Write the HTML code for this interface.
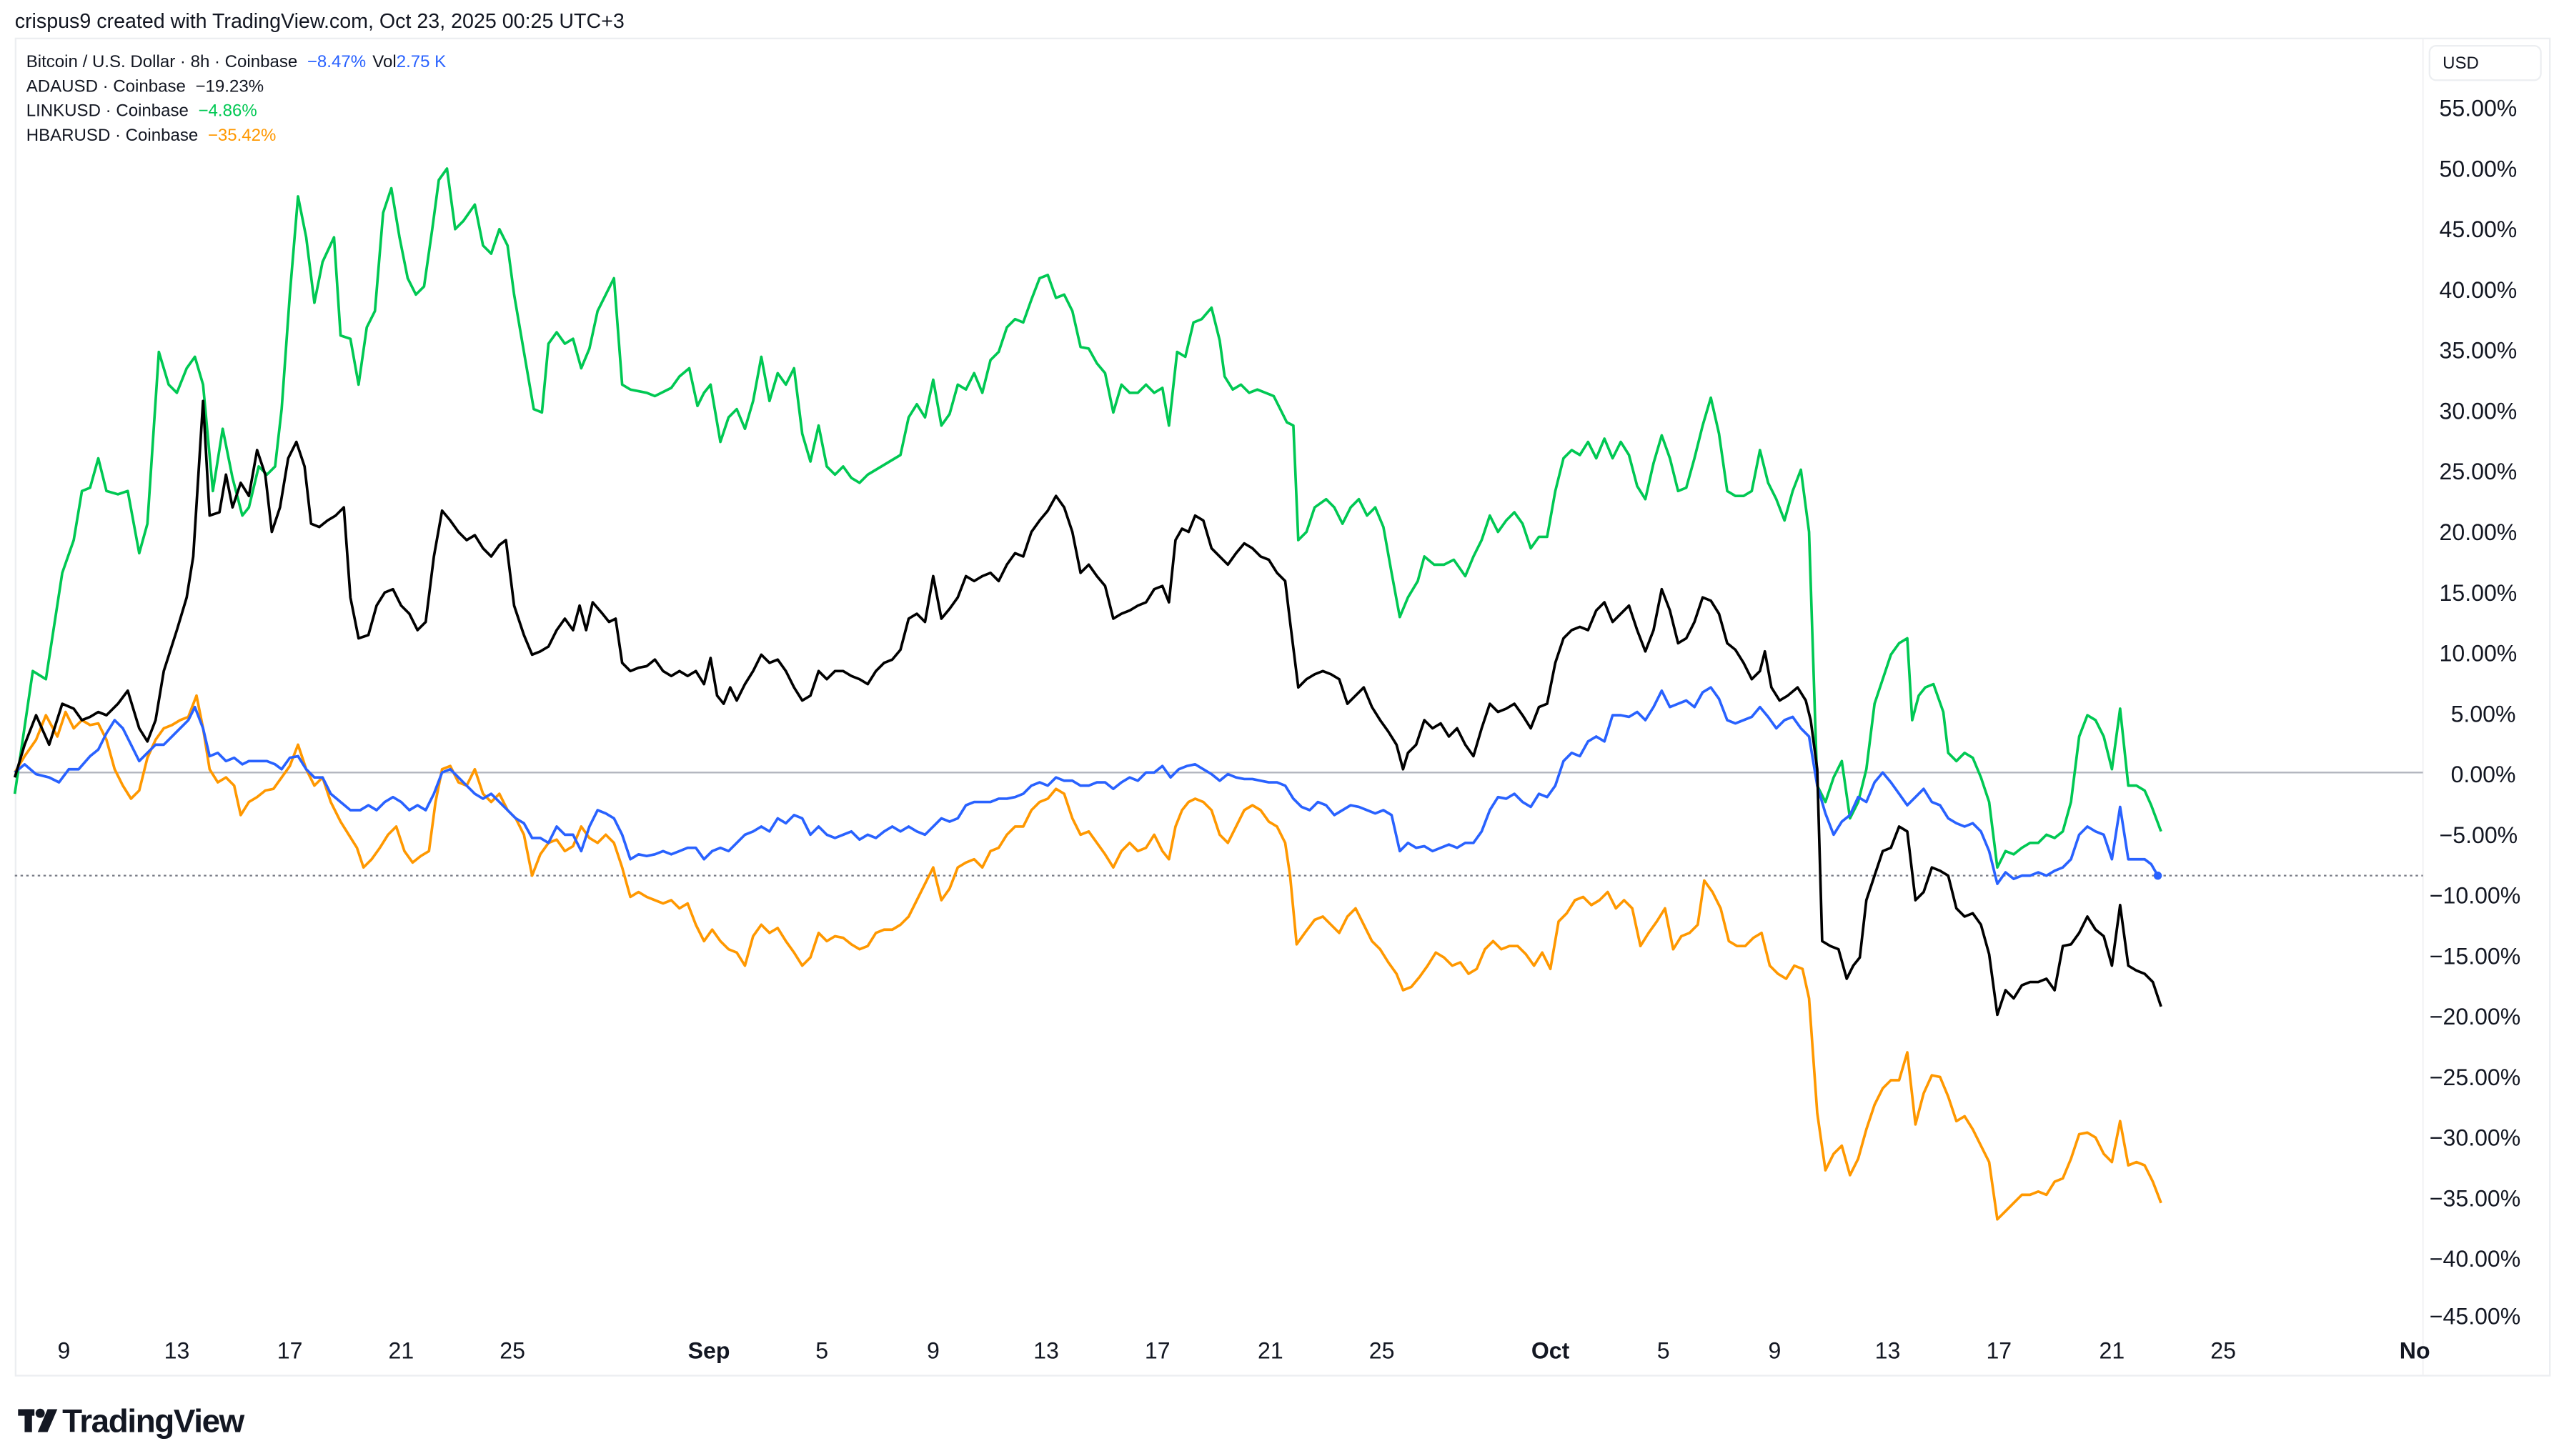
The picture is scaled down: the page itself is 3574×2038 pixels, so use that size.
<!DOCTYPE html>
<html><head><meta charset="utf-8"><style>
html,body{margin:0;padding:0;background:#fff;}
svg{display:block;}
text{font-family:"Liberation Sans",sans-serif;}
</style></head><body>
<svg width="3574" height="2038" viewBox="0 0 1560 889.6" xmlns="http://www.w3.org/2000/svg">
<rect x="0" y="0" width="1560" height="889.6" fill="#fff"/>
<text x="9" y="17" font-size="12.5" fill="#131722">crispus9 created with TradingView.com, Oct 23, 2025 00:25 UTC+3</text>
<rect x="9.5" y="23.5" width="1548" height="817" fill="none" stroke="#eceef1" stroke-width="1"/>
<line x1="1480" y1="24" x2="1480" y2="840" stroke="#f3f3f5" stroke-width="1"/>
<rect x="1484" y="28" width="68" height="21" rx="4" fill="#fff" stroke="#eceef1"/>
<text x="1492" y="42" font-size="10.5" fill="#131722">USD</text>
<g font-size="10.5" fill="#131722">
<text x="16" y="41">Bitcoin / U.S. Dollar · 8h · Coinbase  <tspan fill="#2962ff" dx="3">−8.47%</tspan><tspan dx="4">Vol</tspan><tspan fill="#2962ff">2.75 K</tspan></text>
<text x="16" y="56">ADAUSD · Coinbase <tspan dx="3">−19.23%</tspan></text>
<text x="16" y="71">LINKUSD · Coinbase <tspan fill="#00c853" dx="3">−4.86%</tspan></text>
<text x="16" y="86">HBARUSD · Coinbase <tspan fill="#ff9800" dx="3">−35.42%</tspan></text>
</g>
<g font-size="14" fill="#131722">
<text x="1490" y="71">55.00%</text><text x="1490" y="108">50.00%</text><text x="1490" y="145">45.00%</text>
<text x="1490" y="182">40.00%</text><text x="1490" y="219">35.00%</text><text x="1490" y="256">30.00%</text>
<text x="1490" y="293">25.00%</text><text x="1490" y="330">20.00%</text><text x="1490" y="367">15.00%</text>
<text x="1490" y="404">10.00%</text><text x="1497" y="441">5.00%</text><text x="1497" y="478">0.00%</text>
<text x="1490" y="515">−5.00%</text><text x="1484" y="552">−10.00%</text><text x="1484" y="589">−15.00%</text>
<text x="1484" y="626">−20.00%</text><text x="1484" y="663">−25.00%</text><text x="1484" y="700">−30.00%</text>
<text x="1484" y="737">−35.00%</text><text x="1484" y="774">−40.00%</text><text x="1484" y="809">−45.00%</text>
</g>
<g font-size="14" fill="#131722" text-anchor="middle">
<text x="39" y="830">9</text><text x="108" y="830">13</text><text x="177" y="830">17</text><text x="245" y="830">21</text><text x="313" y="830">25</text>
<text x="433" y="830" font-weight="bold">Sep</text><text x="502" y="830">5</text><text x="570" y="830">9</text><text x="639" y="830">13</text><text x="707" y="830">17</text><text x="776" y="830">21</text><text x="844" y="830">25</text>
<text x="947" y="830" font-weight="bold">Oct</text><text x="1016" y="830">5</text><text x="1084" y="830">9</text><text x="1153" y="830">13</text><text x="1221" y="830">17</text><text x="1290" y="830">21</text><text x="1358" y="830">25</text>
<text x="1475" y="830" font-weight="bold">No</text>
</g>
<line x1="9" y1="472" x2="1480" y2="472" stroke="#b2b5be" stroke-width="1"/>
<line x1="9" y1="535" x2="1480" y2="535" stroke="#787b86" stroke-width="1" stroke-dasharray="1.5,2"/>
<g fill="none" stroke-width="1.6" stroke-linejoin="round">
<polyline stroke="#00c853" points="9,485 20,410 28,415 38,350 45,330 50,300 55,298 60,280 65,300 72,302 78,300 85,338 90,320 97,215 103,235 108,240 114,225 119,218 124,235 130,300 136,262 142,292 148,315 152,310 158,285 163,290 168,285 172,250 177,180 182,120 187,145 192,185 197,160 204,145 208,205 214,207 219,235 224,200 229,190 234,130 239,115 244,145 249,170 254,180 259,175 264,140 268,110 273,103 278,140 283,135 290,125 295,150 300,155 305,140 310,150 314,180 320,215 326,250 331,252 335,210 340,203 345,210 350,207 355,225 360,213 365,190 370,180 375,170 380,235 385,238 395,240 400,242 410,237 415,230 421,225 426,248 430,240 434,235 440,270 445,255 450,250 455,262 460,245 465,218 470,245 475,228 480,235 485,225 490,265 495,282 500,260 505,285 510,290 515,285 520,292 525,295 530,290 540,284 550,278 555,255 560,247 565,255 570,232 575,260 580,253 585,235 590,238 595,228 600,240 605,220 610,215 615,200 620,195 625,197 630,183 635,170 640,168 645,182 650,180 655,190 660,212 665,213 670,222 675,228 680,252 685,235 690,240 695,240 700,235 705,240 710,237 714,260 719,215 724,218 729,197 734,195 740,188 745,208 748,230 753,238 758,235 763,240 768,238 773,240 778,242 782,250 786,258 790,260 793,330 798,325 803,310 810,305 815,310 820,320 825,310 830,305 835,315 840,310 845,322 850,350 855,377 860,365 866,355 870,340 876,345 882,345 888,342 895,352 900,340 905,330 910,315 915,325 920,318 925,313 930,320 935,335 940,328 945,328 950,300 955,280 960,275 965,278 970,270 975,280 980,268 985,280 990,270 995,278 1000,297 1005,305 1010,283 1015,266 1020,280 1025,300 1030,298 1035,280 1040,260 1045,243 1050,265 1055,300 1060,303 1065,303 1070,300 1075,275 1080,295 1085,305 1090,318 1095,300 1100,287 1105,325 1110,480 1115,490 1120,475 1125,465 1130,500 1135,490 1140,470 1145,430 1150,415 1155,400 1160,393 1165,390 1168,440 1172,425 1176,420 1181,418 1187,435 1190,460 1195,465 1200,460 1205,463 1210,475 1215,490 1220,530 1225,520 1230,522 1235,518 1240,515 1245,515 1250,510 1255,512 1260,508 1265,490 1270,450 1275,437 1280,440 1285,450 1290,470 1295,433 1300,480 1305,480 1310,483 1314,492 1320,508"/>
<polyline stroke="#ff9800" points="9,472 15,462 22,452 28,437 35,450 40,435 45,445 50,440 55,443 60,442 65,452 70,470 75,480 80,488 85,483 90,463 95,452 100,445 105,443 110,440 115,438 120,425 124,445 128,470 133,478 138,475 143,480 147,498 152,490 157,487 162,483 167,482 172,475 177,468 182,455 187,470 192,480 197,475 202,490 208,502 213,510 218,518 222,530 227,525 232,518 237,510 242,505 247,520 252,527 257,523 262,520 266,490 270,470 275,468 280,478 285,480 290,470 295,485 300,490 305,485 310,495 315,500 320,510 325,535 330,522 335,515 340,513 345,520 350,517 355,505 360,512 365,515 370,510 375,515 380,530 385,548 390,545 395,548 400,550 405,552 410,550 415,555 420,552 425,565 430,575 435,568 440,575 445,580 450,582 455,590 460,572 465,565 470,570 475,567 480,575 485,582 490,590 495,585 500,570 505,575 510,572 515,573 520,577 525,580 530,578 535,570 540,568 545,568 550,565 555,560 560,550 565,540 570,530 575,550 580,543 585,530 590,527 595,525 600,530 605,520 610,518 615,510 620,505 625,505 630,495 635,490 640,488 645,482 650,485 655,500 660,510 665,508 670,515 675,522 680,530 685,520 690,515 695,520 700,518 705,510 710,520 714,525 718,505 722,495 726,490 730,488 735,490 740,495 745,510 750,515 755,505 760,495 765,492 770,495 775,502 780,505 785,515 788,535 792,577 797,570 803,562 808,560 813,565 818,570 823,560 828,555 833,565 838,575 843,580 848,588 853,595 857,605 862,603 867,597 872,590 877,582 882,585 887,590 892,588 897,595 902,592 907,580 912,575 917,580 922,578 927,578 932,583 937,590 942,582 947,592 952,563 957,558 962,550 967,548 972,553 977,550 982,545 987,555 992,550 997,555 1002,578 1007,570 1012,563 1017,555 1022,580 1027,572 1032,570 1037,565 1041,538 1046,545 1051,555 1056,575 1061,578 1066,578 1071,573 1076,570 1081,590 1086,595 1091,598 1096,590 1101,592 1105,610 1110,680 1115,715 1120,705 1125,700 1130,718 1135,708 1140,690 1145,675 1150,665 1155,660 1160,660 1165,643 1170,687 1175,668 1180,657 1185,658 1190,670 1195,685 1200,682 1205,690 1210,700 1215,710 1220,745 1225,740 1230,735 1235,730 1240,730 1245,728 1250,730 1255,722 1260,720 1265,708 1270,693 1275,692 1280,695 1285,705 1290,710 1295,685 1300,712 1305,710 1310,712 1315,722 1320,735"/>
<polyline stroke="#2962ff" points="9,472 15,467 22,473 30,475 36,478 42,470 48,470 55,462 60,458 65,448 70,440 75,445 80,455 85,465 90,460 95,455 100,455 105,450 110,445 115,440 119,432 124,445 128,462 133,460 138,465 143,463 148,467 152,465 158,465 163,465 168,467 172,470 177,463 182,462 187,470 192,475 197,475 202,485 208,490 214,495 220,495 225,492 230,495 235,490 240,487 245,490 250,495 255,492 260,495 265,485 270,472 275,470 280,475 285,480 290,485 295,488 300,485 305,490 310,495 315,500 320,503 325,512 330,512 335,515 340,505 345,510 350,510 355,520 360,505 365,495 370,497 375,500 380,510 385,525 390,522 395,523 400,522 405,520 410,522 415,520 420,518 425,518 430,525 435,520 440,518 445,520 450,515 455,510 460,508 465,505 470,508 475,500 480,503 485,498 490,500 495,510 500,505 505,510 510,512 515,510 520,508 525,513 530,510 535,512 540,508 545,505 550,508 555,505 560,508 565,510 570,505 575,500 580,502 585,500 590,492 595,490 600,490 605,490 610,488 615,488 620,487 625,485 630,480 635,478 640,480 645,475 650,477 655,477 660,480 665,480 670,478 675,478 680,482 685,478 690,475 695,477 700,472 705,472 710,468 715,475 720,470 725,468 730,467 735,470 740,473 745,477 750,473 755,475 760,476 765,476 770,477 775,478 780,478 785,480 790,488 795,493 800,495 805,490 810,492 815,498 820,495 825,492 830,493 835,495 840,497 845,495 850,498 855,520 860,515 865,518 870,517 875,520 880,518 885,516 890,518 895,515 900,515 905,508 910,495 915,487 920,488 925,485 930,490 935,493 940,485 945,487 950,480 955,465 960,460 965,462 970,453 975,450 980,453 985,437 990,437 995,438 1000,435 1005,440 1010,432 1015,422 1020,432 1025,430 1030,428 1035,432 1040,423 1045,420 1050,427 1055,440 1060,442 1065,440 1070,438 1075,432 1080,438 1085,445 1090,440 1095,438 1100,445 1105,450 1110,480 1115,497 1120,510 1125,502 1130,498 1135,487 1140,490 1145,478 1150,472 1155,478 1160,485 1165,492 1170,487 1175,482 1180,490 1185,492 1190,500 1195,503 1200,505 1205,503 1210,508 1215,520 1220,540 1225,533 1230,537 1235,535 1240,535 1245,533 1250,535 1255,532 1260,530 1265,525 1270,510 1275,505 1280,508 1285,510 1290,525 1295,493 1300,525 1305,525 1310,525 1314,528 1318,535"/>
<polyline stroke="#000" points="9,475 15,455 22,437 30,455 38,430 45,433 50,440 55,438 60,435 65,437 72,430 78,422 85,445 90,453 95,440 100,410 108,385 114,365 118,340 124,245 128,315 134,313 138,290 142,310 147,295 152,303 157,275 162,290 166,325 171,310 176,280 181,270 186,285 190,320 195,322 200,318 205,315 210,310 214,365 219,390 225,388 230,370 235,362 240,360 245,370 250,375 255,385 260,380 265,340 270,312 275,318 280,325 285,330 290,327 295,335 300,340 305,333 309,330 314,370 320,388 325,400 330,398 335,395 340,385 345,378 350,385 354,370 358,385 362,368 368,375 372,380 376,378 380,405 385,410 390,408 395,407 400,403 405,410 410,413 415,410 420,413 425,410 430,418 434,402 438,425 442,430 446,420 450,428 455,418 460,410 465,400 470,405 475,403 480,410 485,420 490,428 495,425 500,410 505,415 510,410 515,410 520,413 525,415 530,418 535,410 540,405 545,403 550,397 555,378 560,375 565,380 570,352 575,378 580,372 585,365 590,352 595,355 600,352 605,350 610,355 615,345 620,338 625,340 630,325 635,318 640,312 645,303 650,310 655,325 660,350 665,345 670,352 675,358 680,378 685,375 690,373 695,370 700,368 705,360 710,358 714,368 718,330 722,323 726,325 730,315 735,318 740,335 745,340 750,345 755,338 760,332 765,335 770,340 775,342 780,350 785,355 788,380 793,420 798,415 803,412 808,410 813,412 818,415 823,430 828,425 833,420 838,432 843,440 848,447 853,455 857,470 860,460 865,455 870,440 875,445 880,442 885,450 890,445 895,455 900,462 905,445 910,430 915,435 920,433 925,430 930,437 935,445 940,432 945,430 950,405 955,390 960,385 965,383 970,385 975,373 980,368 985,380 990,375 995,370 1000,385 1005,398 1010,385 1015,360 1020,373 1025,393 1030,390 1035,380 1040,365 1045,367 1050,375 1055,393 1060,397 1065,405 1070,415 1075,410 1078,398 1082,420 1087,428 1092,425 1098,420 1103,428 1106,440 1110,470 1113,575 1118,578 1123,580 1128,598 1132,590 1136,585 1140,550 1145,535 1150,520 1155,518 1160,505 1165,508 1170,550 1175,545 1180,530 1185,532 1190,535 1195,555 1200,560 1205,558 1210,565 1215,583 1220,620 1225,605 1230,610 1235,602 1240,600 1245,600 1250,598 1255,605 1260,578 1265,577 1270,570 1275,560 1280,568 1285,572 1290,590 1295,553 1300,590 1305,593 1310,595 1315,600 1320,615"/>
</g>
<circle cx="1318" cy="535" r="2.5" fill="#2962ff"/>
<g fill="#131722">
<rect x="11" y="861" width="10" height="4"/><rect x="15" y="861" width="4.5" height="14"/>
<circle cx="24.5" cy="863.5" r="2.8"/><polygon points="29,861 35,861 29,875 23,875"/>
</g>
<text x="38" y="875" font-size="20" font-weight="bold" fill="#131722" letter-spacing="-0.6">TradingView</text>
</svg>
</body></html>
